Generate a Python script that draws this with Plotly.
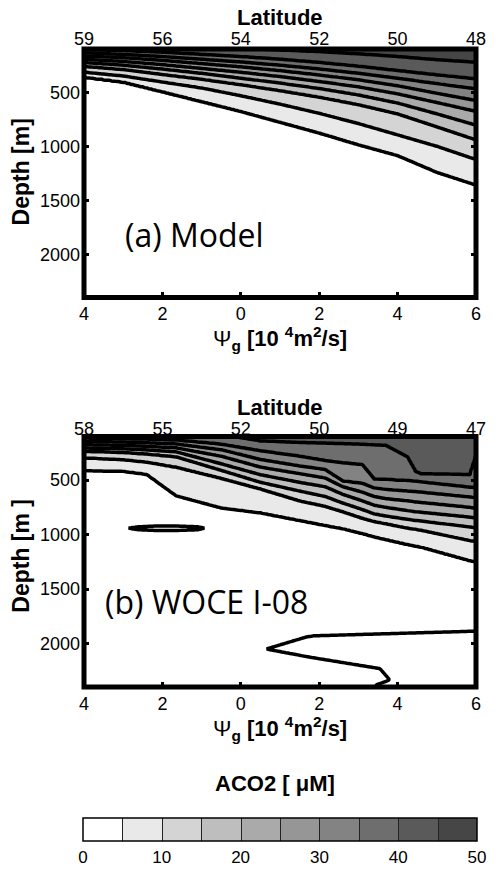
import numpy as np
import plotly.graph_objects as go

# ---------------- data ----------------
levels_model = [45, 40, 35, 30, 25, 20, 15, 10, 5]
levels_woce = [40, 35, 30, 25, 20, 15, 10, 5]

# Panel (a) Model: stations along Psi_g and depth [m] of each isoline
model_x = [-4, -3, -2, -1, 0, 1, 2, 3, 4, 5, 6]
model_d45 = [50, 60, 70, 80, 95, 110, 125, 145, 170, 200, 223]
model_d40 = [105, 115, 130, 150, 170, 195, 225, 260, 300, 340, 377]
model_d35 = [135, 150, 170, 195, 220, 250, 285, 325, 370, 420, 468]
model_d30 = [165, 180, 205, 235, 265, 300, 340, 385, 440, 510, 577]
model_d25 = [195, 215, 245, 280, 315, 355, 400, 450, 515, 595, 677]
model_d20 = [225, 250, 285, 325, 370, 415, 465, 525, 600, 700, 805]
model_d15 = [260, 290, 335, 380, 430, 485, 545, 615, 700, 820, 941]
model_d10 = [315, 350, 405, 460, 532, 610, 695, 790, 895, 1000, 1123]
model_d05 = [359, 405, 495, 586, 677, 777, 877, 986, 1086, 1241, 1359]

# Panel (b) WOCE I-08
woce_x = [-4, -3, -2.4, -1.65, -0.5, 0.5, 1.5, 2.15, 2.6, 3.1, 3.4, 3.7, 4.25, 4.45, 4.6, 5.85, 6.0]
woce_d40 = [60, 60, 60, 60, 80, 140, 155, 160, 165, 170, 175, 180, 286, 420, 446, 450, 270]
woce_d35 = [115, 120, 125, 132, 170, 230, 280, 320, 340, 357, 491, 495, 505, 509, 515, 565, 571]
woce_d30 = [145, 150, 157, 167, 220, 310, 370, 402, 509, 530, 571, 585, 600, 605, 610, 655, 661]
woce_d25 = [175, 180, 190, 203, 280, 380, 440, 480, 560, 610, 650, 670, 690, 700, 705, 750, 759]
woce_d20 = [205, 212, 222, 240, 350, 450, 520, 560, 630, 690, 730, 750, 780, 790, 795, 840, 848]
woce_d15 = [235, 245, 260, 285, 410, 520, 600, 650, 710, 770, 810, 830, 860, 870, 875, 930, 937]
woce_d10 = [295, 312, 335, 380, 482, 580, 690, 740, 790, 850, 880, 900, 940, 950, 960, 1055, 1062]
woce_d05 = [410, 418, 446, 643, 755, 800, 870, 915, 945, 990, 1020, 1045, 1090, 1105, 1115, 1240, 1250]

# Zero-level contour of panel (b): deep negative tongue (its left edge vs depth)
zero_deep_depth = [1850, 1886, 1931, 2051, 2126, 2231, 2335, 2380, 2420]
zero_deep_xleft = [9.0, 6.1, 1.76, 0.65, 1.76, 3.55, 3.8, 3.46, 3.4]
# small closed zero contour near 940 m: half-height [m] along Psi_g
pocket_x = [-2.9, -2.6, -2.2, -1.6, -1.1, -0.9]
pocket_halfheight = [0, 14, 20, 20, 14, 0]
pocket_depth = 942

# Tick labels
psi_tickvals = [-4, -2, 0, 2, 4, 6]
psi_ticktext = ["4", "2", "0", "2", "4", "6"]
lat_model = ["59", "56", "54", "52", "50", "48"]
lat_woce = ["58", "55", "52", "50", "49", "47"]
depth_ticks = [500, 1000, 1500, 2000]
cbar_ticks = [0, 10, 20, 30, 40, 50]
gray_colors = ["#ffffff", "#e9e9e9", "#d4d4d4", "#bebebe", "#aaaaaa",
               "#969696", "#838383", "#6e6e6e", "#5a5a5a", "#464646"]

# ---------------- build gridded fields ----------------
depth_grid = np.arange(0, 2510, 10)
x_grid = np.round(np.arange(-4, 6.0001, 0.05), 2)


def build_field(xs, levels, rows, top_value):
    iso = [np.interp(x_grid, xs, r) for r in rows]
    Z = np.zeros((len(depth_grid), len(x_grid)))
    for j in range(len(x_grid)):
        d = [float(r[j]) for r in iso]
        kd = [0] + d + [d[-1] + 250, 2500]
        kz = [top_value] + levels + [2.5, 1.5]
        Z[:, j] = np.interp(depth_grid, kd, kz)
    return Z


Z_model = build_field(model_x, levels_model,
                      [model_d45, model_d40, model_d35, model_d30, model_d25,
                       model_d20, model_d15, model_d10, model_d05], 49)
Z_woce = build_field(woce_x, levels_woce,
                     [woce_d40, woce_d35, woce_d30, woce_d25, woce_d20,
                      woce_d15, woce_d10, woce_d05], 44)

xl = np.interp(depth_grid, zero_deep_depth, zero_deep_xleft, left=99.0)
hh = np.interp(x_grid, pocket_x, pocket_halfheight, left=0, right=0)
Z_zero = np.full((len(depth_grid), len(x_grid)), 2.0)
for j, xv in enumerate(x_grid):
    Z_zero[:, j] = np.minimum(Z_zero[:, j], xl - xv)
    if hh[j] > 0:
        Z_zero[:, j] = np.minimum(Z_zero[:, j],
                                  (np.abs(depth_grid - pocket_depth) - hh[j]) / 10.0)
    elif pocket_x[0] - 0.06 < xv < pocket_x[-1] + 0.06:
        Z_zero[:, j] = np.minimum(Z_zero[:, j],
                                  (np.abs(depth_grid - pocket_depth) + 3) / 10.0)

n = len(gray_colors)
cscale = [[k / (n - 1), c] for k, c in enumerate(gray_colors)]
step_scale = []
for k, c in enumerate(gray_colors):
    step_scale += [[k / n, c], [(k + 1) / n, c]]
cont = dict(start=5, end=45, size=5, coloring="fill", showlines=True)
FONT = "Liberation Sans, Arial, Helvetica, sans-serif"

fig = go.Figure()
fig.add_trace(go.Contour(x=x_grid, y=depth_grid, z=Z_model, xaxis="x", yaxis="y",
                         autocontour=False, contours=cont, colorscale=cscale,
                         line=dict(color="black", width=3.5, smoothing=0),
                         showscale=False, hoverinfo="skip"))
fig.add_trace(go.Contour(x=x_grid, y=depth_grid, z=Z_woce, xaxis="x3", yaxis="y2",
                         autocontour=False, contours=cont, colorscale=cscale,
                         line=dict(color="black", width=3.5, smoothing=0),
                         showscale=False, hoverinfo="skip"))
fig.add_trace(go.Contour(x=x_grid, y=depth_grid, z=Z_zero, xaxis="x3", yaxis="y2",
                         autocontour=False,
                         contours=dict(start=0, end=0.5, size=1, coloring="lines"),
                         colorscale=[[0, "black"], [1, "black"]],
                         line=dict(width=3.5, smoothing=0),
                         showscale=False, hoverinfo="skip"))
# colour bar carrier (placed outside the visible ranges)
fig.add_trace(go.Contour(x=[20, 21], y=[5000, 5100], z=[[0, 50], [0, 50]],
                         xaxis="x", yaxis="y", autocontour=False,
                         contours=dict(start=5, end=45, size=5, coloring="heatmap", showlines=True),
                         zmin=0, zmax=50, colorscale=step_scale,
                         line=dict(color="#222222", width=1),
                         hoverinfo="skip", showscale=True,
                         colorbar=dict(orientation="h", x=0.5, xanchor="center",
                                       y=-0.2052, yanchor="top", len=394, lenmode="pixels",
                                       thickness=23, thicknessmode="pixels",
                                       outlinewidth=1.5, outlinecolor="black",
                                       xpad=0, ypad=0, tickmode="array",
                                       tickvals=cbar_ticks, ticks="",
                                       tickfont=dict(family=FONT, size=17, color="black"))))
# carriers so that the latitude axes are drawn
for xa, ya in (("x2", "y"), ("x4", "y2")):
    fig.add_trace(go.Scatter(x=[0], y=[-5000], xaxis=xa, yaxis=ya, mode="markers",
                             marker=dict(size=1, color="white"), hoverinfo="skip"))

axcommon = dict(showgrid=False, zeroline=False, showline=False)
tick_font = dict(family=FONT, size=18, color="black")
xbottom = dict(axcommon, range=[-4, 6], tickmode="array", tickvals=psi_tickvals,
               ticktext=psi_ticktext, ticks="inside", ticklen=5, tickwidth=2.5,
               tickcolor="black", tickfont=tick_font, ticklabelstandoff=4)
yleft = dict(axcommon, range=[2400, 100], tickmode="array", tickvals=depth_ticks,
             ticks="inside", ticklen=5, tickwidth=2.5, tickcolor="black",
             mirror="ticks", tickfont=tick_font, ticklabelstandoff=3)
xtop = dict(axcommon, range=[-4, 6], side="top", tickmode="array", tickvals=psi_tickvals,
            ticks="", tickfont=tick_font)

fig.update_layout(
    width=502, height=873, margin=dict(l=84, r=26, t=49, b=173),
    paper_bgcolor="white", plot_bgcolor="white", showlegend=False,
    xaxis=dict(xbottom, anchor="y"),
    yaxis=dict(yleft, domain=[0.6106, 1.0], anchor="x"),
    xaxis2=dict(xtop, overlaying="x", anchor="y", ticktext=lat_model, ticklabelstandoff=-1),
    xaxis3=dict(xbottom, anchor="y2"),
    yaxis2=dict(yleft, domain=[0.0, 0.3925], anchor="x3"),
    xaxis4=dict(xtop, overlaying="x3", anchor="y2", ticktext=lat_woce, ticklabelstandoff=-3),
)

frame = dict(type="rect", x0=0, x1=1, y0=0, y1=1, layer="above",
             line=dict(color="black", width=5))
fig.add_shape(frame, xref="x domain", yref="y domain")
fig.add_shape(frame, xref="x3 domain", yref="y2 domain")

bold = dict(family=FONT, size=22, color="black")
ann = [
    dict(text="<b>Latitude</b>", x=0.5, y=1.050, font=bold),
    dict(text="<b>Latitude</b>", x=0.5, y=0.438, font=bold),
    dict(text="Ψ<b><sub>g</sub> [10 <sup>4</sup>m<sup>2</sup>/s]</b>", x=0.5, y=0.546, font=bold),
    dict(text="Ψ<b><sub>g</sub> [10 <sup>4</sup>m<sup>2</sup>/s]</b>", x=0.5, y=-0.0645, font=bold),
    dict(text="<b>Depth [m]</b>", x=-0.1607, y=0.8065, textangle=-90,
         font=dict(family=FONT, size=23, color="black")),
    dict(text="<b>Depth [m ]</b>", x=-0.1607, y=0.2058, textangle=-90,
         font=dict(family=FONT, size=23, color="black")),
    dict(text="(a) Model", x=0.0995, y=0.7097, xanchor="left",
         font=dict(family="Open Sans, Noto Sans, sans-serif", size=32, color="black")),
    dict(text="(b) WOCE I-08", x=0.0485, y=0.1336, xanchor="left",
         font=dict(family="Open Sans, Noto Sans, sans-serif", size=32, color="black")),
    dict(text="<b>ACO2 [ μM]</b>", x=0.487, y=-0.1505, font=bold),
]
for a in ann:
    a.setdefault("xanchor", "center")
    fig.add_annotation(xref="paper", yref="paper", showarrow=False, yanchor="middle", **a)

fig.write_html("out.html")
